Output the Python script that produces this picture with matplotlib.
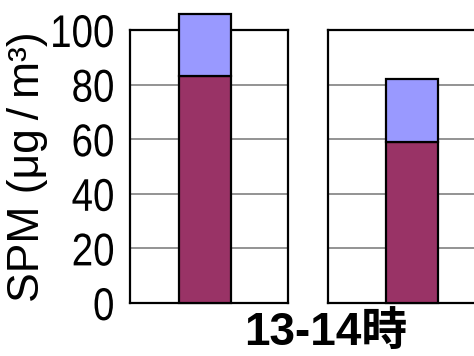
import matplotlib
matplotlib.use("Agg")
import matplotlib.pyplot as plt
from matplotlib.patheffects import AbstractPathEffect
from matplotlib.transforms import Affine2D

# SPM concentration split into two components for two sites
panels = ["A", "B"]
lower_vals = [83, 59]
upper_vals = [23, 23]
yticks = [0, 20, 40, 60, 80, 100]
xlabel_text = "13-14時"
ylabel_text = "SPM (μg\u2009/\u2009m³)"

lower_color = "#993366"
upper_color = "#9999FF"

plt.rcParams["font.family"] = ["Liberation Sans", "DejaVu Sans", "Noto Sans CJK JP"]


class Condense(AbstractPathEffect):
    """Draw text narrower, keeping its right edge in place."""

    def __init__(self, sx):
        super().__init__()
        self.sx = sx

    def draw_path(self, renderer, gc, tpath, affine, rgbFace=None):
        x1 = tpath.get_extents().x1
        squeeze = Affine2D().translate(-x1, 0).scale(self.sx, 1).translate(x1, 0)
        renderer.draw_path(gc, tpath, squeeze + affine, rgbFace)


fig = plt.figure(figsize=(4.74, 3.56), dpi=100)

axes_rects = [
    [130 / 474, 53 / 356, 158 / 474, 273 / 356],
    [328 / 474, 53 / 356, 162 / 474, 273 / 356],
]
xlims = [(-1.44, 1.6), (-1.615, 1.5)]

for i, (rect, xl) in enumerate(zip(axes_rects, xlims)):
    ax = fig.add_axes(rect)
    ax.set_ylim(0, 100)
    ax.set_xlim(*xl)
    ax.set_yticks(yticks)
    ax.yaxis.grid(True, color="#808080", linewidth=1.2)
    ax.set_axisbelow(True)
    ax.set_xticks([])
    ax.tick_params(axis="y", length=0, pad=11)
    for sp in ax.spines.values():
        sp.set_linewidth(1.6)
        sp.set_color("black")
    ax.bar(0, lower_vals[i], width=1.0, color=lower_color,
           edgecolor="black", linewidth=1.6, clip_on=False, zorder=3)
    ax.bar(0, upper_vals[i], bottom=lower_vals[i], width=1.0,
           color=upper_color, edgecolor="black", linewidth=1.6,
           clip_on=False, zorder=3)
    if i == 0:
        labels = ax.set_yticklabels([str(t) for t in yticks], fontsize=33)
        for lab in labels:
            lab.set_path_effects([Condense(0.84)])
        ax.yaxis.set_label_coords(-0.52, 0.565)
        ax.set_ylabel(ylabel_text, fontsize=32)
    else:
        ax.set_yticklabels([])

fig.text(326 / 474, 1 - 334 / 356, xlabel_text, fontsize=33,
         fontweight="bold", ha="center", va="center")

fig.savefig("out.png", dpi=100)
